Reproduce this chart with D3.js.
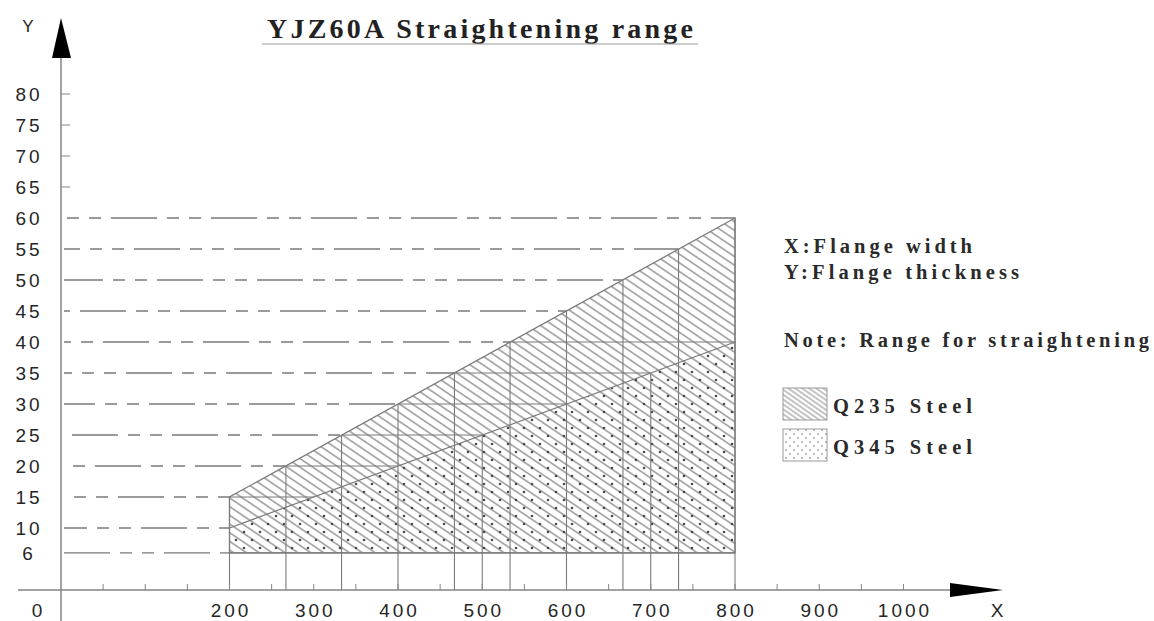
<!DOCTYPE html>
<html>
<head>
<meta charset="utf-8">
<script src="https://cdn.jsdelivr.net/npm/d3@7/dist/d3.min.js"></script>
<style>
  html, body { margin: 0; padding: 0; background: #fff; }
  svg { display: block; }
</style>
</head>
<body>
<svg id="chart" width="1154" height="621"></svg>
<script>
// ---------------- data ----------------
const title = "YJZ60A Straightening range";
const xTickLabels = [200, 300, 400, 500, 600, 700, 800, 900, 1000];
const xMinorTicks = [50, 100, 150, 200, 250, 300, 350, 400, 450, 500, 550, 600, 650, 700, 750, 800, 850, 900, 950, 1000];
const yTickLabels = [6, 10, 15, 20, 25, 30, 35, 40, 45, 50, 55, 60, 65, 70, 75, 80];
const gridValues = [6, 10, 15, 20, 25, 30, 35, 40, 45, 50, 55, 60];
// Q235 range boundary: (width, thickness)
const q235Upper = [[200, 15], [800, 60]];
// Q345 range boundary
const q345Upper = [[200, 10], [800, 40]];
const minThickness = 6;
// vertical construction lines (flange width)
const upperVerticals = [200, 267, 333, 400, 467, 533, 600, 667, 733, 800];
const lowerVerticals = [500, 700];
const legendNotes = ["X:Flange width", "Y:Flange thickness"];
const noteText = "Note: Range for straightening";
const legendItems = ["Q235 Steel", "Q345 Steel"];

// ---------------- scales ----------------
const svg = d3.select("#chart");
const x = d3.scaleLinear().domain([0, 1000]).range([61, 903.5]);
const y = d3.scaleLinear().domain([0, 80]).range([590, 94]);

const upperFn = d3.scaleLinear().domain(q235Upper.map(d => d[0])).range(q235Upper.map(d => d[1]));
const lowerFn = d3.scaleLinear().domain(q345Upper.map(d => d[0])).range(q345Upper.map(d => d[1]));
const upperInv = d3.scaleLinear().domain(q235Upper.map(d => d[1])).range(q235Upper.map(d => d[0]));
const lowerInv = d3.scaleLinear().domain(q345Upper.map(d => d[1])).range(q345Upper.map(d => d[0]));

const lineCol = "#7a7a7a";
const textCol = "#262626";

// ---------------- patterns ----------------
const defs = svg.append("defs");
function hatch(id, spacing, angle, col, w) {
  const p = defs.append("pattern").attr("id", id)
    .attr("patternUnits", "userSpaceOnUse")
    .attr("width", 20).attr("height", spacing)
    .attr("patternTransform", `rotate(${angle})`);
  p.append("line").attr("x1", 0).attr("x2", 20).attr("y1", spacing / 2).attr("y2", spacing / 2)
    .attr("stroke", col).attr("stroke-width", w);
}
hatch("hatchMain", 7.2, 34, "#6a6a6a", 1.05);
hatch("hatchLegend", 4, 35, "#7a7a7a", 0.9);

function dots(id, s, r, col) {
  const p = defs.append("pattern").attr("id", id)
    .attr("patternUnits", "userSpaceOnUse")
    .attr("width", s).attr("height", s);
  p.append("circle").attr("cx", s * 0.25).attr("cy", s * 0.25).attr("r", r).attr("fill", col);
  p.append("circle").attr("cx", s * 0.75).attr("cy", s * 0.75).attr("r", r).attr("fill", col);
}
dots("dotsMain", 16, 1.3, "#4a4a4a");
dots("dotsLegend", 8, 0.8, "#666");

// ---------------- regions ----------------
const q235Poly = [[q235Upper[0][0], minThickness], ...q235Upper, [q235Upper[1][0], minThickness]];
const q345Poly = [[q345Upper[0][0], minThickness], ...q345Upper, [q345Upper[1][0], minThickness]];
const line = d3.line().x(d => x(d[0])).y(d => y(d[1]));

svg.append("path").attr("d", line(q235Poly) + "Z").attr("fill", "url(#hatchMain)").attr("stroke", "none");
svg.append("path").attr("d", line(q345Poly) + "Z").attr("fill", "url(#dotsMain)").attr("stroke", "none");

// ---------------- grid lines ----------------
const g = svg.append("g").attr("fill", "none").attr("stroke", lineCol).attr("stroke-width", 1.3);
gridValues.forEach((v, i) => {
  const xu = v <= q235Upper[0][1] ? q235Upper[0][0] : upperInv(v);
  g.append("line")
    .attr("x1", x(0) + 3).attr("x2", x(xu))
    .attr("y1", y(v)).attr("y2", y(v))
    .attr("stroke-dasharray", "46,10,12,10,12,10")
    .attr("stroke-dashoffset", (i * 23) % 100);
  // inner solid part up to Q345 boundary
  if (v > q345Upper[0][1] && v <= q345Upper[1][1]) {
    const xl = lowerInv(v);
    if (xl > xu) {
      g.append("line").attr("x1", x(xu)).attr("x2", x(xl)).attr("y1", y(v)).attr("y2", y(v))
        .attr("stroke-width", 1);
    }
  }
});
// bottom edge of region
g.append("line").attr("x1", x(q235Upper[0][0])).attr("x2", x(q235Upper[1][0]))
  .attr("y1", y(minThickness)).attr("y2", y(minThickness));

// vertical construction lines
upperVerticals.forEach(v => {
  g.append("line").attr("x1", x(v)).attr("x2", x(v)).attr("y1", y(0)).attr("y2", y(upperFn(v)))
    .attr("stroke-width", 1.1);
});
lowerVerticals.forEach(v => {
  g.append("line").attr("x1", x(v)).attr("x2", x(v)).attr("y1", y(0)).attr("y2", y(lowerFn(v)))
    .attr("stroke-width", 1.1);
});

// region outlines
svg.append("path").attr("d", line(q235Poly) + "Z").attr("fill", "none").attr("stroke", lineCol).attr("stroke-width", 1.3);
svg.append("path").attr("d", line(q345Upper)).attr("fill", "none").attr("stroke", lineCol).attr("stroke-width", 1.2);

// ---------------- axes ----------------
const ax = svg.append("g").attr("stroke", "#858585").attr("stroke-width", 1.5);
ax.append("line").attr("x1", 18).attr("x2", 955).attr("y1", y(0)).attr("y2", y(0));
ax.append("line").attr("x1", x(0)).attr("x2", x(0)).attr("y1", 58).attr("y2", 621);

// x minor ticks
ax.selectAll(".xt").data(xMinorTicks).join("line")
  .attr("x1", d => x(d)).attr("x2", d => x(d)).attr("y1", y(0)).attr("y2", y(0) - 6)
  .attr("stroke-width", 1);
// y ticks
ax.selectAll(".yt").data(yTickLabels.filter(d => d > 60)).join("line")
  .attr("x1", x(0)).attr("x2", x(0) + 9).attr("y1", d => y(d)).attr("y2", d => y(d))
  .attr("stroke-width", 1);

// arrows
svg.append("path").attr("d", `M${x(0)},18 L52,58 L71,58 Z`).attr("fill", "#000");
svg.append("path").attr("d", `M950,583 L1003,590 L950,597 Z`).attr("fill", "#000");

// axis labels
const sans = "'Liberation Sans', Arial, sans-serif";
svg.append("text").attr("x", 28).attr("y", 32).attr("text-anchor", "middle")
  .attr("font-family", sans).attr("font-size", 17).attr("fill", textCol).text("Y");
svg.append("text").attr("x", 997).attr("y", 617).attr("text-anchor", "middle")
  .attr("font-family", sans).attr("font-size", 19).attr("fill", textCol).text("X");

// tick labels
svg.selectAll(".xl").data(xTickLabels).join("text")
  .attr("x", d => x(d) + 1.5).attr("y", 617).attr("text-anchor", "middle")
  .attr("font-family", sans).attr("font-size", 19).attr("letter-spacing", 3)
  .attr("fill", textCol).text(d => d);
svg.append("text").attr("x", 37).attr("y", 617).attr("text-anchor", "middle")
  .attr("font-family", sans).attr("font-size", 19).attr("fill", textCol).text(0);
svg.selectAll(".yl").data(yTickLabels).join("text")
  .attr("x", 29).attr("y", d => y(d) + 7).attr("text-anchor", "middle")
  .attr("font-family", sans).attr("font-size", 19).attr("letter-spacing", 3)
  .attr("fill", textCol).text(d => d);

// ---------------- title ----------------
const serif = "'Liberation Serif', 'Times New Roman', serif";
svg.append("text").attr("x", 267).attr("y", 38)
  .attr("font-family", serif).attr("font-size", 28).attr("font-weight", "bold")
  .attr("textLength", 426).attr("lengthAdjust", "spacing")
  .attr("fill", "#222").text(title);
svg.append("line").attr("x1", 262).attr("x2", 698).attr("y1", 44).attr("y2", 44)
  .attr("stroke", "#999").attr("stroke-width", 1.2);

// ---------------- legend ----------------
const notes = [
  {t: legendNotes[0], y: 253, w: 188},
  {t: legendNotes[1], y: 279, w: 235},
  {t: noteText, y: 347, w: 365}
];
notes.forEach(n => {
  svg.append("text").attr("x", 784).attr("y", n.y)
    .attr("font-family", serif).attr("font-size", 20.5).attr("font-weight", "bold")
    .attr("textLength", n.w).attr("lengthAdjust", "spacing")
    .attr("fill", "#2a2a2a").text(n.t);
});
const fills = ["url(#hatchLegend)", "url(#dotsLegend)"];
const boxY = [388, 429];
legendItems.forEach((t, i) => {
  svg.append("rect").attr("x", 783).attr("y", boxY[i]).attr("width", 44).attr("height", 32)
    .attr("fill", fills[i]).attr("stroke", "#999").attr("stroke-width", 1);
  svg.append("text").attr("x", 833).attr("y", boxY[i] + 25)
    .attr("font-family", serif).attr("font-size", 20.5).attr("font-weight", "bold")
    .attr("textLength", 139).attr("lengthAdjust", "spacing")
    .attr("fill", "#2a2a2a").text(t);
});
</script>
</body>
</html>
